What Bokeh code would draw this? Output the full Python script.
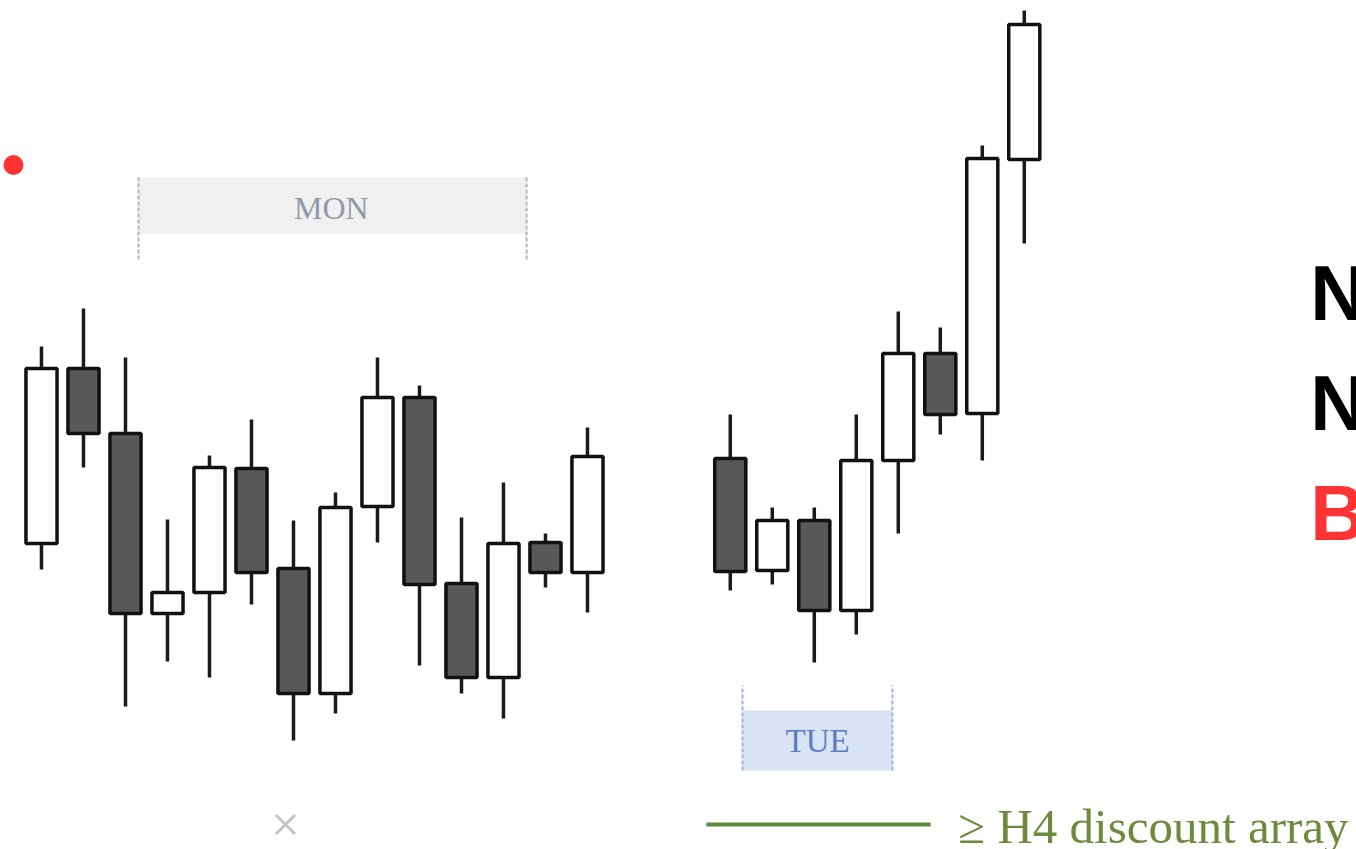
from bokeh.plotting import figure
from bokeh.models import ColumnDataSource, Range1d, BoxAnnotation
from bokeh.core.properties import value
from bokeh.embed import file_html
from bokeh.resources import INLINE

# ---- data (price units) ----
slots = [0, 1, 2, 3, 4, 5, 6, 7, 8, 9, 10, 11, 12, 13,
         16.4, 17.4, 18.4, 19.4, 20.4, 21.4, 22.4, 23.4]
opens = [29.8, 47.3, 40.8, 22.8, 24.9, 37.3, 27.3, 14.8, 33.5, 44.4, 25.8, 16.4, 29.9, 26.9,
         38.3, 27.1, 32.1, 23.1, 38.1, 48.8, 42.8, 68.2]
closes = [47.3, 40.8, 22.8, 24.9, 37.4, 26.9, 14.8, 33.4, 44.4, 25.7, 16.4, 29.8, 26.9, 38.5,
          27.0, 32.1, 23.1, 38.1, 48.8, 42.7, 68.3, 81.7]
highs = [49.5, 53.3, 48.4, 32.2, 38.6, 42.2, 32.1, 34.9, 48.4, 45.6, 32.4, 35.9, 30.8, 41.4,
         42.7, 33.4, 33.4, 42.7, 53.0, 51.4, 69.6, 83.1]
lows = [27.2, 37.4, 13.5, 18.0, 16.4, 23.7, 10.1, 12.8, 29.9, 17.6, 14.8, 12.3, 25.4, 22.9,
        25.1, 25.7, 17.9, 20.7, 30.8, 40.7, 38.1, 59.8]

session_labels = ["MON", "TUE"]
side_letters = ["N", "N", "B"]
legend_label = "\u2265 H4 discount array"

UP_FILL = "#ffffff"
DOWN_FILL = "#595959"

fills = [UP_FILL if c >= o else DOWN_FILL for o, c in zip(opens, closes)]
tops = [max(o, c) for o, c in zip(opens, closes)]
bottoms = [min(o, c) for o, c in zip(opens, closes)]

src = ColumnDataSource(dict(x=slots, top=tops, bottom=bottoms, high=highs, low=lows, fill=fills))

p = figure(width=1356, height=849, output_backend="svg", toolbar_location=None,
           x_range=Range1d(-0.976, 31.31), y_range=Range1d(-0.8, 84.1),
           min_border=0, min_border_left=0, min_border_right=0,
           min_border_top=0, min_border_bottom=0)
p.axis.visible = False
p.grid.visible = False
p.outline_line_color = None
p.background_fill_color = "white"
p.border_fill_color = "white"

# Session boxes
p.add_layout(BoxAnnotation(left=2.31, right=11.55, bottom=60.8, top=66.4,
                           fill_color="#f0f0f0", fill_alpha=1, line_alpha=0, level="underlay"))
p.add_layout(BoxAnnotation(left=16.69, right=20.26, bottom=7.1, top=13.1,
                           fill_color="#dae3f3", fill_alpha=1, line_alpha=0, level="underlay"))
p.segment(x0=[2.31, 11.55], y0=[58.2, 58.2], x1=[2.31, 11.55], y1=[66.4, 66.4],
          line_color="#b4b4b4", line_width=2, line_dash="4 2")
p.segment(x0=[16.69, 20.26], y0=[7.1, 7.1], x1=[16.69, 20.26], y1=[15.6, 15.6],
          line_color="#9fb3de", line_width=2, line_dash="4 2")
p.text(x=[6.90], y=[63.4], text=[session_labels[0]], text_font=value("Liberation Serif"),
       text_font_size="32px", text_color="#9298a8", text_align="center", text_baseline="middle")
p.text(x=[18.48], y=[10.1], text=[session_labels[1]], text_font=value("Liberation Serif"),
       text_font_size="33px", text_color="#5a7cc4", text_align="center", text_baseline="middle")

# Candles
p.segment(x0="x", y0="high", x1="x", y1="low", source=src, line_color="#1a1a1a", line_width=3.5)
p.vbar(x="x", width=0.74, top="top", bottom="bottom", source=src,
       fill_color="fill", line_color="#111111", line_width=3.5)

# Markers / extras
p.scatter(x=[-0.667], y=[67.65], size=20, marker="circle", fill_color="#ff3333", line_color=None)
p.scatter(x=[5.81], y=[1.7], size=27, marker="x", line_color="#c4c4c4", line_width=3)
p.segment(x0=[15.83], y0=[1.7], x1=[21.17], y1=[1.7], line_color="#5e8a3c", line_width=4)
p.text(x=[21.83], y=[1.5], text=[legend_label], text_font=value("Liberation Serif"),
       text_font_size="49px", text_color="#6e8b3d", text_align="left", text_baseline="alphabetic")

p.text(x=[30.21, 30.21, 30.21], y=[54.85, 43.85, 32.85], text=side_letters,
       text_font=value("Liberation Sans"), text_font_style="bold", text_font_size="77px",
       text_color=["#000000", "#000000", "#ff3333"], text_align="left", text_baseline="middle")

open("out.html", "w").write(file_html(p, INLINE))
